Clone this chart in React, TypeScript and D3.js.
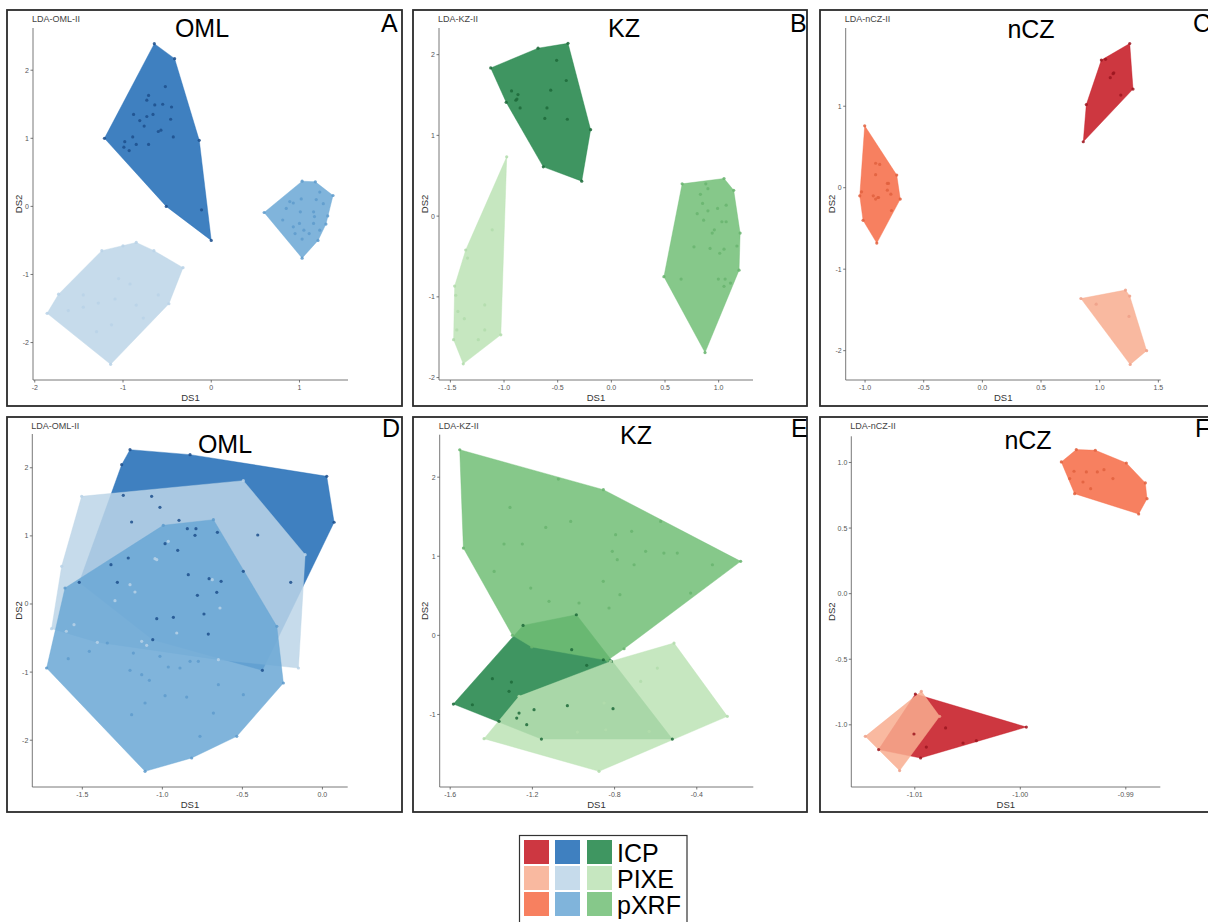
import React from "react";
import * as d3 from "d3";

type Pt = [number, number];

// ---------- legend / groups ----------
const methods = ["ICP", "PIXE", "pXRF"];
const blueFill = ["#3f80c0", "#c6dbeb", "#80b4db"];
const greenFill = ["#3f9661", "#c6e7c0", "#86c88a"];
const redFill = ["#cd3741", "#f9b9a0", "#f78060"];
const bluePoint = ["#1d4f8c", "#b9d2e8", "#5e9bcc"];
const greenPoint = ["#1d6a3a", "#b2dcab", "#68b46e"];
const redPoint = ["#9c1620", "#eea088", "#e0603e"];

// ---------- Panel A: OML ----------
const A_ICP: Pt[] = [[-0.645,2.39],[-0.415,2.17],[-0.136,0.97],[-0.11,-0.05],[0,-0.5],[-0.51,0.0],[-1.21,1.0],
[-0.71,1.63],[-0.73,1.56],[-0.52,1.76],[-0.64,1.49],[-0.55,1.5],[-0.45,1.46],[-0.88,1.35],[-0.81,1.26],[-0.73,1.32],[-0.66,1.35],[-0.76,1.18],[-0.46,1.28],[-0.6,1.1],[-0.57,1.12],[-0.43,1.02],[-0.89,1.02],[-0.98,0.95],[-0.99,0.87],[-0.93,0.82],[-0.85,0.91],[-0.71,0.91]];
const A_PIXE: Pt[] = [[-1.86,-1.57],[-1.73,-1.29],[-1.24,-0.65],[-1.0,-0.58],[-0.85,-0.53],[-0.65,-0.65],[-0.32,-0.9],[-0.48,-1.43],[-1.14,-2.32],
[-1.45,-1.3],[-1.05,-1.06],[-0.92,-1.14],[-1.28,-1.42],[-1.09,-1.36],[-0.85,-1.45],[-1.45,-1.48],[-1.62,-1.53],[-0.77,-1.64],[-1.13,-1.74],[-1.3,-1.84],[-0.6,-1.3]];
const A_pXRF: Pt[] = [[0.6,-0.09],[1.03,0.37],[1.18,0.36],[1.38,0.16],[1.32,-0.14],[1.3,-0.26],[1.21,-0.5],[1.03,-0.76],
[1.23,0.21],[1.02,0.11],[1.19,0.1],[0.89,0.07],[0.93,0.05],[0.85,-0.03],[1.01,-0.08],[1.16,-0.08],[1.27,0.04],[0.81,-0.2],[0.93,-0.3],[1.0,-0.25],[1.16,-0.25],[1.23,-0.35],[0.95,-0.4],[1.03,-0.48],[1.11,-0.4],[1.17,-0.15],[1.05,-0.35]];
const A_xTicks = [-2, -1, 0, 1];
const A_xLabels = ["-2", "-1", "0", "1"];
const A_yTicks = [-2, -1, 0, 1, 2];
const A_yLabels = ["-2", "-1", "0", "1", "2"];

// ---------- Panel B: KZ ----------
const B_ICP: Pt[] = [[-1.124,1.835],[-0.683,2.08],[-0.404,2.14],[-0.193,1.07],[-0.276,0.433],[-0.634,0.61],
[-0.51,1.93],[-0.42,1.68],[-0.93,1.55],[-0.87,1.505],[-0.89,1.435],[-0.88,1.45],[-0.98,1.41],[-0.85,1.34],[-0.565,1.56],[-0.6,1.34],[-0.62,1.21],[-0.41,1.2]];
const B_PIXE: Pt[] = [[-0.975,0.734],[-1.03,-1.47],[-1.38,-1.83],[-1.47,-1.53],[-1.46,-0.866],[-1.357,-0.42],
[-1.11,-0.17],[-1.34,-0.52],[-1.45,-0.98],[-1.43,-1.18],[-1.37,-1.27],[-1.18,-1.1],[-1.18,-1.41],[-1.24,-1.53],[-1.44,-1.41]];
const B_pXRF: Pt[] = [[0.66,0.4],[1.05,0.466],[1.14,0.32],[1.2,-0.21],[1.19,-0.67],[1.11,-0.83],[0.873,-1.69],[0.49,-0.75],
[0.88,0.4],[0.9,0.34],[0.83,0.27],[0.85,0.157],[0.99,0.095],[1.07,0.136],[0.8,0.03],[0.9,0.066],[0.86,-0.05],[1.03,-0.07],[1.07,-0.07],[0.96,-0.17],[0.94,-0.21],[0.77,-0.38],[0.92,-0.4],[1.01,-0.46],[1.05,-0.41],[1.17,-0.37],[0.65,-0.78],[0.997,-0.78],[1.06,-0.78],[1.05,-0.87]];
const B_xTicks = [-1.5, -1.0, -0.5, 0.0, 0.5, 1.0];
const B_xLabels = ["-1.5", "-1.0", "-0.5", "0.0", "0.5", "1.0"];
const B_yTicks = [-2, -1, 0, 1, 2];
const B_yLabels = ["-2", "-1", "0", "1", "2"];

// ---------- Panel C: nCZ ----------
const C_ICP: Pt[] = [[1.256,1.77],[1.284,1.21],[1.18,1.137],[0.86,0.564],[0.886,1.02],[1.014,1.566],[1.05,1.575],[1.12,1.41],[1.09,1.35],[1.114,1.4]];
const C_PIXE: Pt[] = [[0.84,-1.36],[1.22,-1.256],[1.256,-1.33],[1.4,-2.0],[1.26,-2.17],[0.97,-1.43],[1.25,-1.58]];
const C_pXRF: Pt[] = [[-1.003,0.76],[-0.73,0.155],[-0.7,-0.14],[-0.9,-0.68],[-1.017,-0.4],[-1.045,-0.1],
[-0.91,0.3],[-0.875,0.286],[-0.91,0.16],[-0.81,0.053],[-0.8,0.053],[-0.81,-0.03],[-0.78,-0.08],[-1.03,-0.05],[-0.93,-0.1],[-0.91,-0.14],[-0.89,-0.12],[-0.885,-0.12],[-0.775,-0.28]];
const C_xTicks = [-1.0, -0.5, 0.0, 0.5, 1.0, 1.5];
const C_xLabels = ["-1.0", "-0.5", "0.0", "0.5", "1.0", "1.5"];
const C_yTicks = [-2, -1, 0, 1];
const C_yLabels = ["-2", "-1", "0", "1"];

// ---------- Panel D: OML ----------
const D_ICP: Pt[] = [[-1.202,2.266],[-0.827,2.193],[0.027,1.875],[0.073,1.2],[-0.198,0.318],[-0.375,-0.974],[-1.06,-0.524],[-1.519,0.318],[-1.254,2.046],
[-1.244,1.596],[-1.067,1.581],[-1.015,1.419],[-1.192,1.204],[-0.896,1.229],[-0.844,1.106],[-0.79,1.106],[-0.796,1.008],[-0.656,1.052],[-0.404,1.013],[-0.983,0.886],[-0.904,0.788],[-1.213,0.675],[-1.321,0.578],[-1.281,0.318],[-0.838,0.431],[-0.708,0.372],[-0.633,0.333],[-0.66,0.171],[-0.781,0.127],[-0.494,0.48],[-0.74,-0.147],[-0.931,-0.196],[-1.035,-0.215],[-0.713,-0.441]];
const D_PIXE: Pt[] = [[-1.504,1.581],[-0.494,1.811],[-0.108,0.724],[-0.15,-0.94],[-1.692,-0.362],[-1.629,0.553],
[-1.046,0.666],[-1.035,0.651],[-1.202,0.284],[-1.171,0.176],[-1.296,0.049],[-0.688,0.357],[-0.64,-0.059],[-1.552,-0.303],[-1.6,-0.4],[-1.406,-0.563],[-1.129,-0.548],[-1.098,-0.607],[-0.91,-0.426],[-0.65,-0.817],[-0.963,0.92]];
const D_pXRF: Pt[] = [[-0.994,1.155],[-0.681,1.238],[-0.285,-0.328],[-0.244,-1.16],[-0.535,-1.943],[-0.817,-2.261],[-1.108,-2.457],[-1.723,-0.94],[-1.608,0.235],
[-1.456,-0.695],[-1.344,-0.573],[-1.181,-0.72],[-1.202,-0.974],[-1.015,-0.768],[-0.963,-0.925],[-0.89,-0.94],[-0.827,-0.842],[-0.775,-0.842],[-1.129,-1.038],[-1.081,-1.121],[-0.65,-1.185],[-0.494,-1.331],[-0.983,-1.346],[-0.848,-1.366],[-1.108,-1.454],[-1.192,-1.625],[-0.681,-1.601],[-0.765,-1.943],[-1.588,-0.803]];
const D_xTicks = [-1.5, -1.0, -0.5, 0.0];
const D_xLabels = ["-1.5", "-1.0", "-0.5", "0.0"];
const D_yTicks = [-2, -1, 0, 1, 2];
const D_yLabels = ["-2", "-1", "0", "1", "2"];

// ---------- Panel E: KZ ----------
const E_ICP: Pt[] = [[-1.5843,-0.868],[-1.2454,0.126],[-0.986,0.261],[-0.8157,-0.329],[-0.519,-1.311],[-1.156,-1.311],[-1.362,-1.087],
[-1.4919,-0.877],[-1.3946,-0.548],[-1.302,-0.59],[-1.3135,-0.708],[-1.2649,-0.982],[-1.2762,-1.045],[-1.2276,-1.129],[-1.1919,-0.94],[-1.0297,-0.889],[-0.8076,-0.927],[-1.0087,-0.181],[-0.9357,-0.379],[-0.8546,-0.308]];
const E_PIXE: Pt[] = [[-1.4351,-1.306],[-1.2649,-0.771],[-0.819,-0.329],[-0.5108,-0.097],[-0.2514,-1.024],[-0.8757,-1.719],
[-0.851,-0.855],[-0.673,-0.582],[-0.592,-0.413],[-0.843,-1.193],[-0.632,-1.214],[-0.981,-1.222]];
const E_pXRF: Pt[] = [[-1.5535,2.347],[-1.0735,1.976],[-0.8546,1.842],[-0.1865,0.936],[-0.754,-0.169],[-0.835,-0.316],[-1.2032,-0.147],[-1.297,0.0],[-1.5357,1.104],
[-1.309,1.618],[-1.135,1.365],[-1.0135,1.441],[-1.338,1.155],[-1.249,1.155],[-1.386,0.809],[-1.208,0.598],[-1.119,0.43],[-0.973,0.409],[-0.827,0.346],[-0.855,0.683],[-0.795,1.273],[-0.717,1.315],[-0.811,1.062],[-0.787,0.957],[-0.705,0.893],[-0.649,1.062],[-0.56,1.041],[-0.495,1.041],[-0.774,0.514],[-0.43,0.535],[-0.324,0.893],[-0.576,1.441]];
const E_xTicks = [-1.6, -1.2, -0.8, -0.4];
const E_xLabels = ["-1.6", "-1.2", "-0.8", "-0.4"];
const E_yTicks = [-1, 0, 1, 2];
const E_yLabels = ["-1", "0", "1", "2"];

// ---------- Panel F: nCZ ----------
const F_ICP: Pt[] = [[-1.00995,-0.765],[-0.99943,-1.017],[-1.00945,-1.253],[-1.01343,-1.189],
[-1.01008,-1.07],[-1.00708,-1.024],[-1.00891,-1.17],[-1.00543,-1.139],[-1.00417,-1.121]];
const F_PIXE: Pt[] = [[-1.01469,-1.088],[-1.00938,-0.745],[-1.00765,-0.935],[-1.01144,-1.349]];
const F_pXRF: Pt[] = [[-0.99611,1.004],[-0.99469,1.098],[-0.99289,1.093],[-0.98995,0.996],[-0.98815,0.844],[-0.98799,0.724],[-0.98878,0.607],[-0.99485,0.762],
[-0.99491,0.933],[-0.99374,0.928],[-0.9927,0.928],[-0.99207,0.945],[-0.99122,0.877],[-0.99406,0.851],[-0.99333,0.8],[-0.99532,0.877]];
const F_xTicks = [-1.01, -1.0, -0.99];
const F_xLabels = ["-1.01", "-1.00", "-0.99"];
const F_yTicks = [-1.0, -0.5, 0.0, 0.5, 1.0];
const F_yLabels = ["-1.0", "-0.5", "0.0", "0.5", "1.0"];

// ---------- layout ----------
const ALPHA = 0.85;
const FONT = "'Liberation Sans', Arial, sans-serif";

function baseFor(hex: string, a: number) {
  const c = d3.rgb(hex);
  const f = (v: number) => Math.max(0, Math.min(255, (v - (1 - a) * 255) / a));
  return d3.rgb(f(c.r), f(c.g), f(c.b)).formatHex();
}

interface PanelCfg {
  letter: string; title: string; lda: string;
  box: [number, number, number, number];
  xr: [number, number]; yr: [number, number];
  xd: [number, number]; yd: [number, number];
  xt: number[]; xl: string[]; yt: number[]; yl: string[];
  groups: Pt[][]; fills: string[]; pts: string[];
  titleX: number; titleY: number; letterX: number; letterY: number;
}

const panels: PanelCfg[] = [
  { letter: "A", title: "OML", lda: "LDA-OML-II", box: [7, 10, 395, 396], xr: [33, 348], yr: [380, 28], xd: [-2.02, 1.55], yd: [-2.55, 2.62],
    xt: A_xTicks, xl: A_xLabels, yt: A_yTicks, yl: A_yLabels, groups: [A_ICP, A_PIXE, A_pXRF], fills: blueFill, pts: bluePoint,
    titleX: 202, titleY: 37, letterX: 381, letterY: 32 },
  { letter: "B", title: "KZ", lda: "LDA-KZ-II", box: [413, 10, 394, 396], xr: [439, 753], yr: [380, 28], xd: [-1.606, 1.32], yd: [-2.03, 2.33],
    xt: B_xTicks, xl: B_xLabels, yt: B_yTicks, yl: B_yLabels, groups: [B_ICP, B_PIXE, B_pXRF], fills: greenFill, pts: greenPoint,
    titleX: 624, titleY: 37, letterX: 790, letterY: 32 },
  { letter: "C", title: "nCZ", lda: "LDA-nCZ-II", box: [820, 10, 400, 396], xr: [845.7, 1160.7], yr: [380, 28], xd: [-1.165, 1.52], yd: [-2.36, 1.96],
    xt: C_xTicks, xl: C_xLabels, yt: C_yTicks, yl: C_yLabels, groups: [C_ICP, C_PIXE, C_pXRF], fills: redFill, pts: redPoint,
    titleX: 1031, titleY: 38, letterX: 1193, letterY: 32 },
  { letter: "D", title: "OML", lda: "LDA-OML-II", box: [7, 417, 395, 395], xr: [32.3, 347.7], yr: [787, 434], xd: [-1.8125, 0.158], yd: [-2.687, 2.496],
    xt: D_xTicks, xl: D_xLabels, yt: D_yTicks, yl: D_yLabels, groups: [D_ICP, D_PIXE, D_pXRF], fills: blueFill, pts: bluePoint,
    titleX: 225, titleY: 453, letterX: 382, letterY: 437 },
  { letter: "E", title: "KZ", lda: "LDA-KZ-II", box: [413, 417, 394, 395], xr: [439.7, 753.3], yr: [787, 434.7], xd: [-1.651, -0.125], yd: [-1.917, 2.537],
    xt: E_xTicks, xl: E_xLabels, yt: E_yTicks, yl: E_yLabels, groups: [E_ICP, E_PIXE, E_pXRF], fills: greenFill, pts: greenPoint,
    titleX: 636, titleY: 444, letterX: 791, letterY: 437 },
  { letter: "F", title: "nCZ", lda: "LDA-nCZ-II", box: [820, 417, 400, 395], xr: [851.3, 1160.3], yr: [787, 436.3], xd: [-1.01602, -0.98673], yd: [-1.474, 1.1995],
    xt: F_xTicks, xl: F_xLabels, yt: F_yTicks, yl: F_yLabels, groups: [F_ICP, F_PIXE, F_pXRF], fills: redFill, pts: redPoint,
    titleX: 1028, titleY: 449, letterX: 1195, letterY: 437 },
];

function Panel({ p }: { p: PanelCfg }) {
  const x = d3.scaleLinear().domain(p.xd).range(p.xr);
  const y = d3.scaleLinear().domain(p.yd).range(p.yr);
  const axY = p.yr[0];
  const axX = p.xr[0];
  const line = d3.line<Pt>().x((d) => x(d[0])).y((d) => y(d[1])).curve(d3.curveLinearClosed);
  return (
    <g>
      <rect x={p.box[0]} y={p.box[1]} width={p.box[2]} height={p.box[3]} fill="white" stroke="#2b2b2b" strokeWidth={1.8} />
      {p.groups.map((g, i) => {
        const hull = d3.polygonHull(g) as Pt[];
        const col = baseFor(p.fills[i], ALPHA);
        return <path key={"h" + i} d={line(hull) || ""} fill={col} fillOpacity={ALPHA} stroke={col} strokeOpacity={0.5} strokeWidth={0.8} />;
      })}
      {p.groups.map((g, i) =>
        g.map((d, j) => <circle key={"p" + i + "-" + j} cx={x(d[0])} cy={y(d[1])} r={1.6} fill={p.pts[i]} fillOpacity={0.85} />)
      )}
      {/* axes */}
      <line x1={axX} x2={p.xr[1]} y1={axY} y2={axY} stroke="#555" strokeWidth={0.8} />
      <line x1={axX} x2={axX} y1={axY} y2={p.yr[1]} stroke="#555" strokeWidth={0.8} />
      {p.xt.map((t, i) => (
        <g key={"xt" + i}>
          <line x1={x(t)} x2={x(t)} y1={axY} y2={axY + 2.5} stroke="#555" strokeWidth={0.8} />
          <text x={x(t)} y={axY + 10} fontSize={7} fill="#555" textAnchor="middle" fontFamily={FONT}>{p.xl[i]}</text>
        </g>
      ))}
      {p.yt.map((t, i) => (
        <g key={"yt" + i}>
          <line x1={axX - 2.5} x2={axX} y1={y(t)} y2={y(t)} stroke="#555" strokeWidth={0.8} />
          <text x={axX - 4} y={y(t) + 2.5} fontSize={7} fill="#555" textAnchor="end" fontFamily={FONT}>{p.yl[i]}</text>
        </g>
      ))}
      <text x={(p.xr[0] + p.xr[1]) / 2} y={axY + 21} fontSize={9.5} fill="#333" textAnchor="middle" fontFamily={FONT}>DS1</text>
      <text transform={`translate(${p.box[0] + 15},${(p.yr[0] + p.yr[1]) / 2}) rotate(-90)`} fontSize={9.5} fill="#333" textAnchor="middle" fontFamily={FONT}>DS2</text>
      <text x={axX - 1} y={p.box[1] + 12} fontSize={9} fill="#444" fontFamily={FONT}>{p.lda}</text>
      <text x={p.titleX} y={p.titleY} fontSize={25} fill="#000" textAnchor="middle" fontFamily={FONT}>{p.title}</text>
      <text x={p.letterX} y={p.letterY} fontSize={25} fill="#000" fontFamily={FONT}>{p.letter}</text>
    </g>
  );
}

function Legend() {
  const cols = [redFill, blueFill, greenFill];
  const colX = [524, 555, 587];
  const rowY = [840, 866, 892];
  return (
    <g>
      <rect x={519.5} y={835.5} width={167.5} height={100} fill="white" stroke="#333" strokeWidth={1.2} />
      {cols.map((c, ci) =>
        methods.map((m, ri) => (
          <rect key={ci + "-" + ri} x={colX[ci]} y={rowY[ri]} width={25} height={24} fill={c[ri]} />
        ))
      )}
      {methods.map((m, ri) => (
        <text key={m} x={617} y={rowY[ri] + 21.5} fontSize={25} fill="#000" fontFamily={FONT}>{m}</text>
      ))}
    </g>
  );
}

export default function App() {
  return (
    <div style={{ position: "absolute", left: 0, top: 0, width: 1208, height: 922, overflow: "hidden", background: "white" }}>
      <svg width={1208} height={922} viewBox="0 0 1208 922" style={{ display: "block" }}>
        <rect x={0} y={0} width={1208} height={922} fill="white" />
        {panels.map((p) => <Panel key={p.letter} p={p} />)}
        <Legend />
      </svg>
    </div>
  );
}
